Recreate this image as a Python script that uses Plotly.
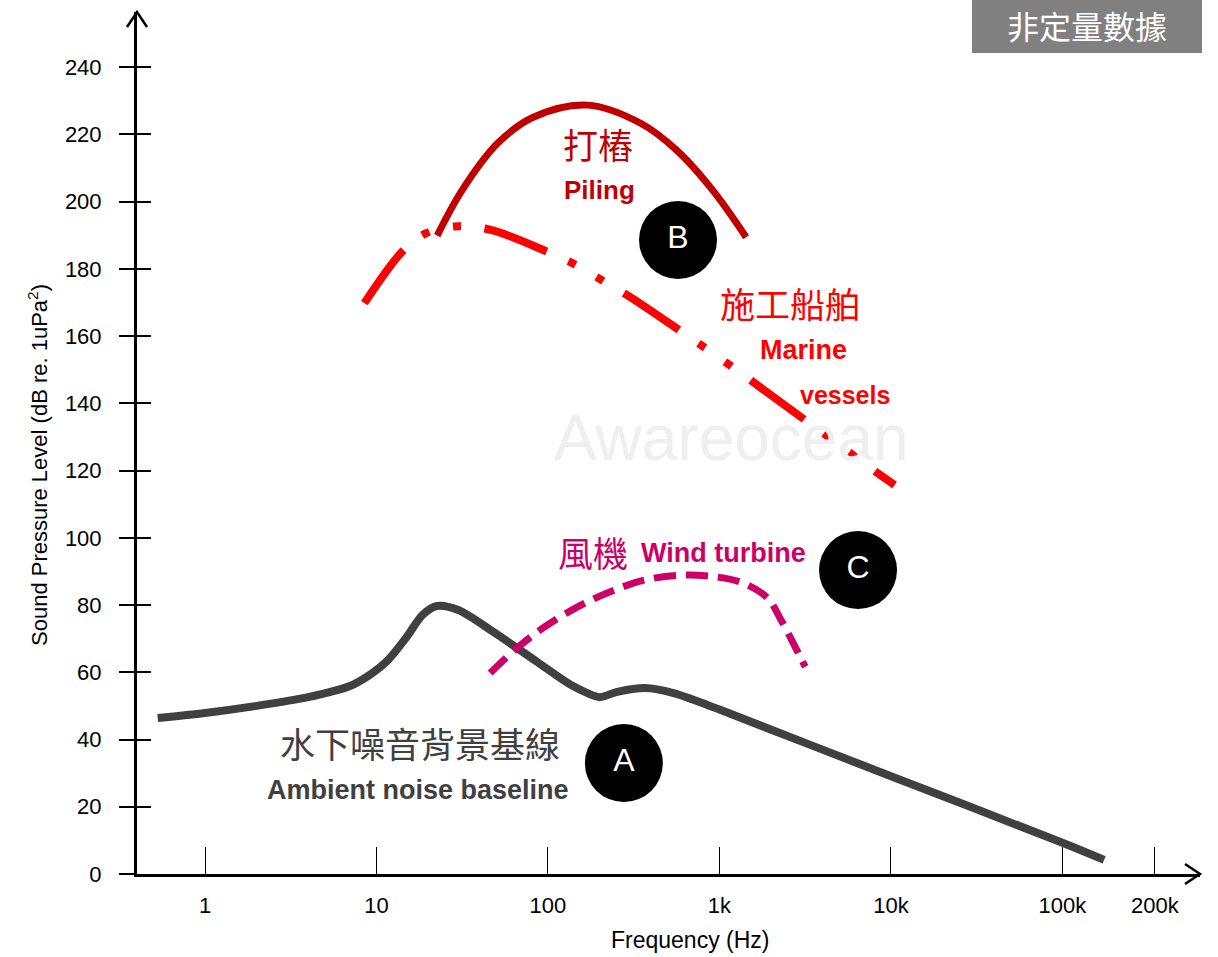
import plotly.graph_objects as go

# ---------------- data ----------------
ambient_freq = [0.53, 1, 2, 4, 7, 9, 11.5, 15, 18.5, 22.5, 30, 50, 87, 140, 200, 250, 370, 540, 850, 1000, 10000, 100000, 175000]
ambient_level = [46.4, 47.9, 50.0, 52.6, 55.9, 59.0, 63.3, 70.5, 77.0, 79.7, 78.5, 71.4, 63.0, 55.9, 52.6, 54.1, 55.3, 53.8, 50.3, 48.9, 29.1, 9.3, 4.2]

piling_freq = [22.6, 31.6, 51, 82, 170, 347, 562, 912, 1430]
piling_level = [189.9, 203.4, 217.4, 225.1, 228.7, 223.3, 215.3, 203.4, 189.4]

vessel_freq = [8.5, 14.4, 19.5, 30, 47, 100, 146, 216, 302, 617, 861, 1260, 1726, 3470, 4840, 6920, 10500]
vessel_level = [169.8, 185.6, 190.6, 192.7, 191.5, 185.0, 181.1, 176.0, 171.6, 160.9, 155.8, 149.9, 144.8, 133.5, 128.2, 122.2, 115.7]

wind_freq = [46, 66, 95.5, 148, 229, 363, 617, 977, 1380, 1905, 2239, 2692, 3162]
wind_level = [59.8, 67.2, 73.5, 79.4, 83.9, 87.4, 88.9, 88.3, 86.5, 82.1, 76.4, 68.7, 61.6]

badge_freq = [277, 573, 6425]
badge_level = [33.0, 188.6, 90.4]
badge_text = ["A", "B", "C"]

x_tick_vals = [1, 10, 100, 1000, 10000, 100000, 346000]
x_tick_text = ["1", "10", "100", "1k", "10k", "100k", "200k"]
y_tick_vals = [0, 20, 40, 60, 80, 100, 120, 140, 160, 180, 200, 220, 240]

# ---------------- style ----------------
SANS = "Liberation Sans, Arial, sans-serif"
CJK = "Noto Sans CJK TC, Noto Sans CJK SC, sans-serif"
GRAY = "#404040"
DARKRED = "#c00000"
RED = "#ff0000"
MAGENTA = "#cc0066"

W, H = 1218, 957
L, R, T, B = 137, 18, 12, 83
PW, PH = W - L - R, H - T - B


def px(x, y):
    return (x - L) / PW, (H - B - y) / PH


fig = go.Figure()

fig.add_trace(go.Scatter(x=ambient_freq, y=ambient_level, mode="lines",
                         line=dict(color=GRAY, width=8, shape="spline", smoothing=0.8),
                         hoverinfo="skip", showlegend=False))
fig.add_trace(go.Scatter(x=wind_freq, y=wind_level, mode="lines",
                         line=dict(color=MAGENTA, width=7, shape="spline", dash="22px,10px"),
                         hoverinfo="skip", showlegend=False))
fig.add_trace(go.Scatter(x=vessel_freq, y=vessel_level, mode="lines",
                         line=dict(color=RED, width=8, shape="spline",
                                   dash="66px,24px,8px,24px,8px,24px"),
                         hoverinfo="skip", showlegend=False))
fig.add_trace(go.Scatter(x=piling_freq, y=piling_level, mode="lines",
                         line=dict(color=DARKRED, width=7, shape="spline"),
                         hoverinfo="skip", showlegend=False))
fig.add_trace(go.Scatter(x=badge_freq, y=badge_level, mode="markers+text",
                         marker=dict(size=78, color="black"),
                         text=badge_text, textposition="middle center",
                         textfont=dict(family=SANS, size=32, color="white"),
                         hoverinfo="skip", showlegend=False))

# second y axis to get ticks crossing the axis line
fig.add_trace(go.Scatter(x=[1], y=[0], yaxis="y2", mode="markers",
                         marker=dict(opacity=0), hoverinfo="skip", showlegend=False))

yrange = [0, 256.4]
fig.update_layout(
    width=W, height=H,
    margin=dict(l=L, r=R, t=T, b=B),
    paper_bgcolor="white", plot_bgcolor="white",
    xaxis=dict(type="log", range=[-0.3965, 5.802], showgrid=False, zeroline=False,
               showline=True, linewidth=3, linecolor="black",
               tickvals=x_tick_vals, ticktext=x_tick_text,
               ticks="inside", ticklen=27, tickwidth=1, tickcolor="black",
               ticklabelstandoff=10,
               tickfont=dict(family=SANS, size=22, color="black")),
    yaxis=dict(range=yrange, showgrid=False, zeroline=False,
               showline=True, linewidth=3, linecolor="black",
               tickvals=y_tick_vals, ticks="outside", ticklen=15, tickwidth=1.5,
               tickcolor="black", ticklabelstandoff=13,
               tickfont=dict(family=SANS, size=22, color="black")),
    yaxis2=dict(range=yrange, overlaying="y", side="left", showgrid=False,
                zeroline=False, showline=False, tickvals=y_tick_vals[1:],
                ticks="inside", ticklen=14, tickwidth=1.5, tickcolor="black",
                showticklabels=False),
)

ann = []


def add_text(text, x, y, size, color, family, **kw):
    xx, yy = px(x, y)
    ann.append(dict(text=text, x=xx, y=yy, xref="paper", yref="paper",
                    showarrow=False, xanchor="center", yanchor="middle",
                    font=dict(family=family, size=size, color=color), **kw))


add_text("Awareocean", 731, 438, 64, "#efefef", SANS)
add_text("打樁", 598, 143, 35, DARKRED, CJK)
add_text("<b>Piling</b>", 599, 190, 26, DARKRED, SANS)
add_text("施工船舶", 790, 302, 35, RED, CJK)
add_text("<b>Marine</b>", 803, 350, 27, RED, SANS)
add_text("<b>vessels</b>", 845, 395, 25, RED, SANS)
add_text("風機", 593, 551, 35, MAGENTA, CJK)
add_text("<b>Wind turbine</b>", 723, 553, 27, MAGENTA, SANS)
add_text("水下噪音背景基線", 420, 742, 35, GRAY, CJK)
add_text("<b>Ambient noise baseline</b>", 418, 790, 27, GRAY, SANS)
add_text("Frequency (Hz)", 690, 940, 23, "black", SANS)
add_text("Sound Pressure Level (dB re. 1uPa<sup>2</sup>)", 38, 465, 22, "black", SANS,
         textangle=-90)
add_text("非定量數據", 1087, 25, 32, "white", CJK)
fig.update_layout(annotations=ann)

# badge rectangle and open arrow heads
bx0, by0 = px(972, 53)
bx1, by1 = px(1202, 0)
ax_w = 10 / PW
ay_h = 15 / PH
rx_w = 15 / PW
ry_h = 10 / PH
fig.update_layout(shapes=[
    dict(type="rect", xref="paper", yref="paper", x0=bx0, y0=by0, x1=bx1, y1=by1,
         fillcolor="#808080", line=dict(width=0), layer="below"),
    dict(type="path", xref="paper", yref="paper",
         path=f"M {-ax_w} {1 - ay_h} L 0 1 L {ax_w} {1 - ay_h}",
         line=dict(color="black", width=2.5)),
    dict(type="path", xref="paper", yref="paper",
         path=f"M {1 - rx_w} {ry_h} L 1 0 L {1 - rx_w} {-ry_h}",
         line=dict(color="black", width=2.5)),
])

post = "document.body.style.margin='0';document.body.style.overflow='hidden';"

fig.write_html("out.html", config={"displayModeBar": False}, post_script=post)
